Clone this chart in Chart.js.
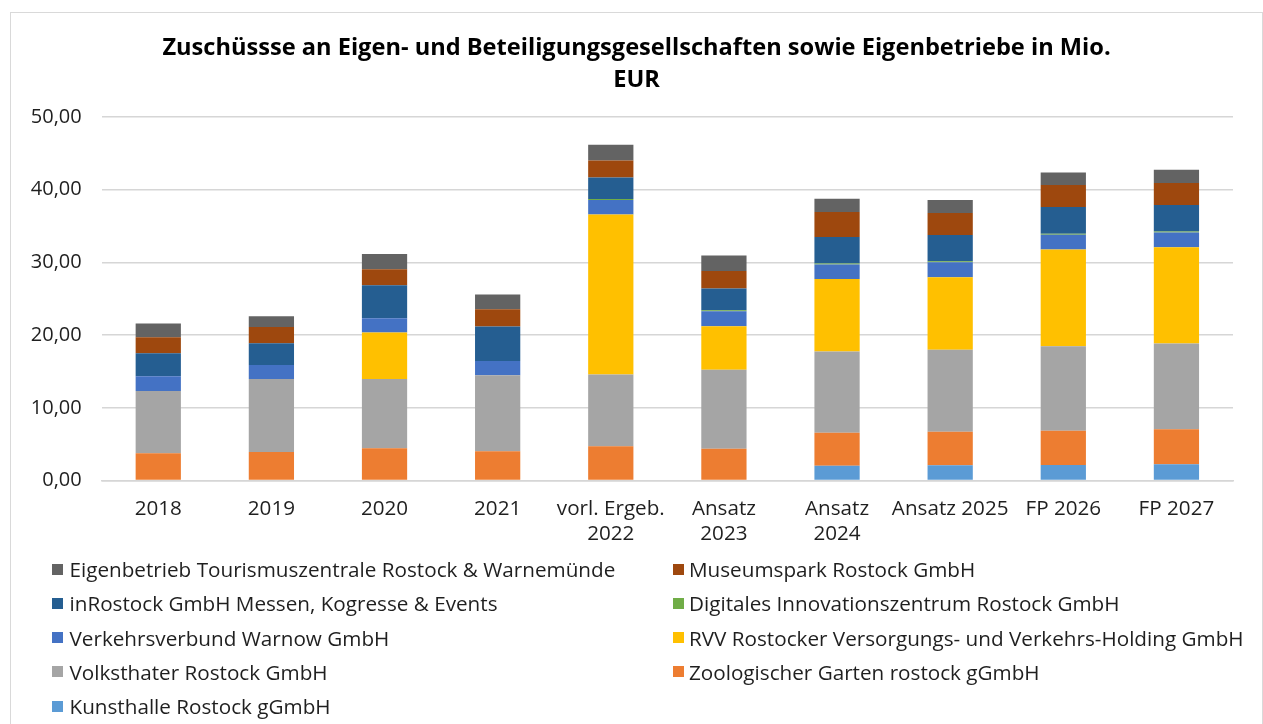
<!DOCTYPE html>
<html><head><meta charset="utf-8">
<script src="https://cdn.jsdelivr.net/npm/chart.js@4/dist/chart.umd.min.js"></script>
<style>
html,body{margin:0;padding:0;background:#fff;width:1263px;height:724px;overflow:hidden;font-family:"Open Sans",sans-serif;}
#frame{position:absolute;left:10px;top:12px;width:1253px;height:800px;border:1px solid #d9d9d9;box-sizing:border-box;}
#wrap{position:absolute;left:0;top:0;width:1263px;height:560px;}
#legend{position:absolute;left:0;top:0;width:1263px;height:724px;}
.li{position:absolute;white-space:nowrap;color:#1f1f1f;line-height:20px;}
.sw{position:absolute;width:11px;height:11px;}
</style></head><body>
<div id="frame"></div>
<div id="wrap"><canvas id="c" width="1263" height="560"></canvas></div>
<div id="legend"></div>
<script>
// ---- data ----
const categories = ['2018','2019','2020','2021',['vorl. Ergeb.','2022'],['Ansatz','2023'],['Ansatz','2024'],'Ansatz 2025','FP 2026','FP 2027'];
const kunsthalle   = [0,0,0,0,0,0,2.04,2.09,2.13,2.23];
const zoo          = [3.74,3.92,4.43,4.02,4.71,4.38,4.54,4.63,4.73,4.82];
const volkstheater = [8.58,10.05,9.54,10.46,9.86,10.87,11.15,11.28,11.61,11.78];
const rvv          = [0,0,6.38,0,22.02,5.98,9.97,9.97,13.30,13.27];
const vvw          = [2.02,1.93,1.98,1.97,1.98,2.06,2.01,2.06,2.03,2.01];
const diz          = [0,0,0,0,0.14,0.14,0.14,0.14,0.14,0.14];
const inrostock    = [3.17,2.99,4.54,4.72,2.98,2.97,3.63,3.59,3.67,3.64];
const museum       = [2.20,2.24,2.20,2.40,2.34,2.40,3.44,3.02,3.03,3.02];
const tourismus    = [1.88,1.47,2.07,2.01,2.16,2.15,1.83,1.79,1.73,1.83];
const yTickValues  = [0,10,20,30,40,50];
const titleLines   = ['Zuschüssse an Eigen- und Beteiligungsgesellschaften sowie Eigenbetriebe in Mio.','EUR'];

// stack order, bottom to top
const seriesNames = ['Kunsthalle Rostock gGmbH','Zoologischer Garten rostock gGmbH','Volksthater Rostock GmbH','RVV Rostocker Versorgungs- und Verkehrs-Holding GmbH','Verkehrsverbund Warnow GmbH','Digitales Innovationszentrum Rostock GmbH','inRostock GmbH Messen, Kogresse & Events','Museumspark Rostock GmbH','Eigenbetrieb Tourismuszentrale Rostock & Warnemünde'];
const seriesData = [kunsthalle, zoo, volkstheater, rvv, vvw, diz, inrostock, museum, tourismus];
const seriesColors = ['#5B9BD5','#ED7D31','#A5A5A5','#FFC000','#4472C4','#70AD47','#255E91','#9E480E','#636363'];

// ---- font fitting ----
const FAM = '"Open Sans"';
const mctx = document.createElement('canvas').getContext('2d');
function fit(text, weight, target){ mctx.font = weight+' 100px '+FAM; return 100*target/mctx.measureText(text).width; }
const titleSize  = fit(titleLines[0], 'bold', 949);
const legendSize = fit('Eigenbetrieb Tourismuszentrale Rostock & Warnemünde', 'normal', 546);
const xSize      = fit('vorl. Ergeb.', 'normal', 108);
const ySize      = fit('50,00', 'normal', 51);

const datasets = seriesNames.map((n,i)=>({label:n, data:seriesData[i], backgroundColor:seriesColors[i], borderWidth:0, barPercentage:0.4, categoryPercentage:1.0}));

// recentre the title box over the whole framed chart
const titleShift = {id:'titleShift', afterLayout(chart){ if(chart.titleBlock){ chart.titleBlock.left = 40; chart.titleBlock.right = 1233; } }};

new Chart(document.getElementById('c'), {
  type:'bar',
  data:{labels:categories, datasets},
  plugins:[titleShift],
  options:{
    responsive:false, animation:false,
    layout:{padding:{left:0,right:30,top:0,bottom:0}},
    plugins:{
      legend:{display:false},
      tooltip:{enabled:false},
      title:{display:true, text:titleLines, color:'#000', font:{family:FAM, weight:'bold', size:titleSize, lineHeight:'32px'}, padding:{top:32,bottom:21}}
    },
    scales:{
      x:{stacked:true, grid:{display:false, drawTicks:false}, border:{display:true, color:'#d6d6d6', width:1.5},
         ticks:{color:'#1f1f1f', padding:16, maxRotation:0, autoSkip:false, font:{family:FAM, size:xSize, lineHeight:'25px'}},
         afterFit:(s)=>{s.height = 560-480.5;}},
      y:{stacked:true, min:0, max:50, border:{display:false},
         grid:{color:'#d6d6d6', lineWidth:1.5, drawTicks:false},
         afterBuildTicks:(s)=>{s.ticks = yTickValues.map(v=>({value:v}));},
         ticks:{color:'#1f1f1f', padding:20, font:{family:FAM, size:ySize}, callback:(v)=>Number(v).toFixed(2).replace('.',',')},
         afterFit:(s)=>{s.width = 101.7;}}
    }
  }
});

// ---- legend (two columns, row-major, top of stack first) ----
const leg = document.getElementById('legend');
const order = seriesNames.map((n,i)=>i).reverse();
order.forEach((si,k)=>{
  const row = Math.floor(k/2), col = k%2;
  const cy = 569 + row*34.25;
  const sx = col===0 ? 52 : 673, tx = col===0 ? 69.5 : 689;
  const sw = document.createElement('div'); sw.className='sw';
  sw.style.left = sx+'px'; sw.style.top = (cy-5.5)+'px'; sw.style.background = seriesColors[si];
  const t = document.createElement('div'); t.className='li';
  t.style.left = tx+'px'; t.style.top = (cy-10)+'px'; t.style.fontSize = legendSize+'px';
  t.textContent = seriesNames[si];
  leg.appendChild(sw); leg.appendChild(t);
});
</script>
</body></html>
